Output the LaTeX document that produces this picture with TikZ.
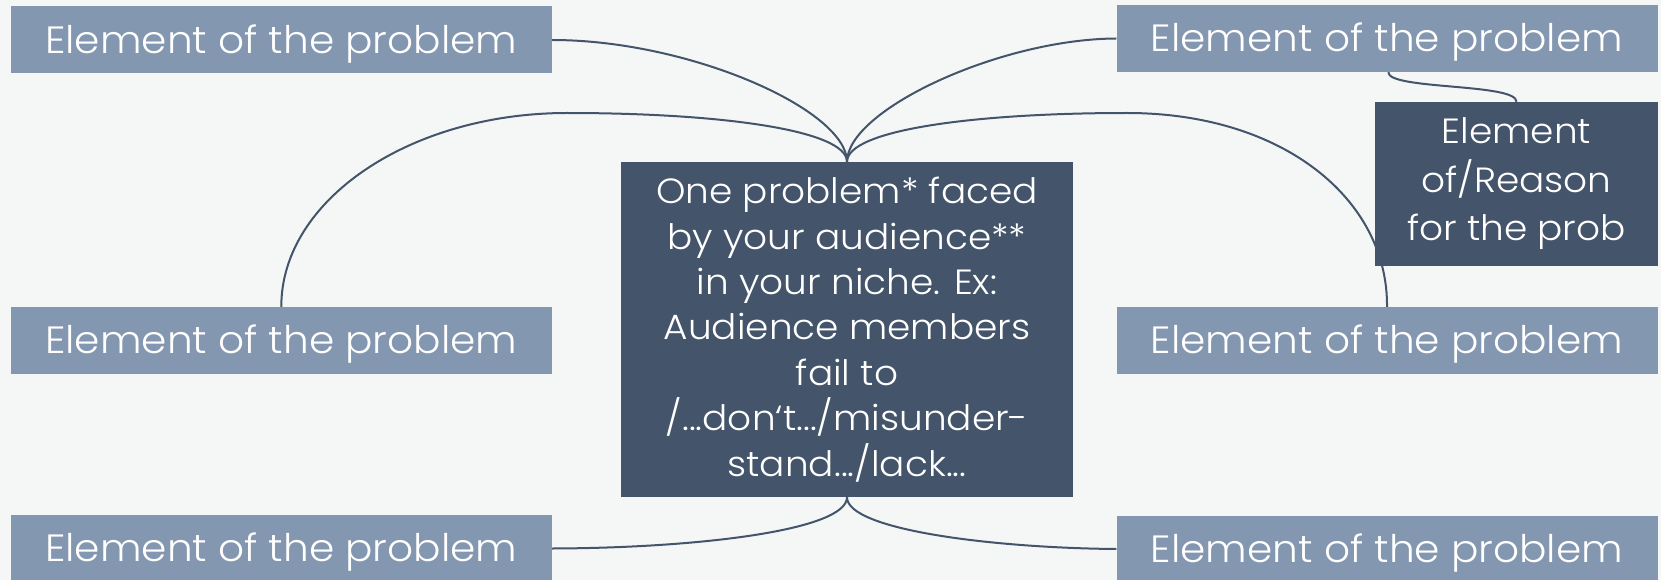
\documentclass[tikz,border=0pt]{standalone}
\usepackage{fontspec}
\setmainfont{Poppins}[UprightFont=* Light, FakeStretch=1.07]
\definecolor{bgc}{HTML}{F5F7F7}
\definecolor{lightbox}{HTML}{8497B0}
\definecolor{darkbox}{HTML}{44546A}
\definecolor{linec}{HTML}{44546A}
\tikzset{
  elem/.style={fill=lightbox, text=white, inner sep=0pt, minimum width=541pt, minimum height=67pt, text height=26.5pt, text depth=0pt, font=\fontsize{38}{44}\selectfont},
  darkel/.style={fill=darkbox, text=white, inner sep=0pt, align=center, font=\fontsize{35}{45.4}\selectfont},
  conn/.style={draw=linec, line width=2pt}
}
\begin{document}
\begin{tikzpicture}[x=1pt,y=-1pt]
\fill[bgc] (0,0) rectangle (1661,580);
\useasboundingbox (0,0) rectangle (1661,580);
\node[elem] (tl) at (281.3,40) {Element of the problem};
\node[elem] (tr) at (1387,38.5) {Element of the problem};
\node[elem] (ml) at (281.3,340.5) {Element of the problem};
\node[elem] (mr) at (1387,340.5) {Element of the problem};
\node[elem] (bl) at (281.3,548.5) {Element of the problem};
\node[elem] (br) at (1387,549) {Element of the problem};
\node[darkel, minimum width=283pt, minimum height=164pt, font=\fontsize{35}{48.5}\selectfont] (rs) at (1516.5,184) {Element\\of/Reason\\for the prob};
\node[darkel, minimum width=452pt, minimum height=335pt] (c) at (847,329.5) {One problem* faced\\by your audience**\\in your niche. Ex:\\Audience members\\fail to\\/...don‘t.../misunder-\\stand.../lack...};
\coordinate (lk) at (567,113);
\coordinate (rk) at (1127,113);
\draw[conn] (c.north) .. controls (847,110) and (690,40) .. (tl.east);
\draw[conn] (c.north) .. controls (847,110) and (1000,39) .. (tr.west);
\draw[conn] (ml.north) .. controls (281,200) and (410,113) .. (lk) .. controls (720,113) and (847,130) .. (c.north);
\draw[conn] (mr.north) .. controls (1388,200) and (1284,113) .. (rk) .. controls (974,113) and (847,130) .. (c.north);
\draw[conn] (c.south) .. controls (847,530) and (700,548) .. (bl.east);
\draw[conn] (c.south) .. controls (847,530) and (994,548) .. (br.west);
\draw[conn] (tr.south west) ++(272,0) coordinate (trb) .. controls (1388,90) and (1517,83) .. (rs.north);
\end{tikzpicture}
\end{document}
